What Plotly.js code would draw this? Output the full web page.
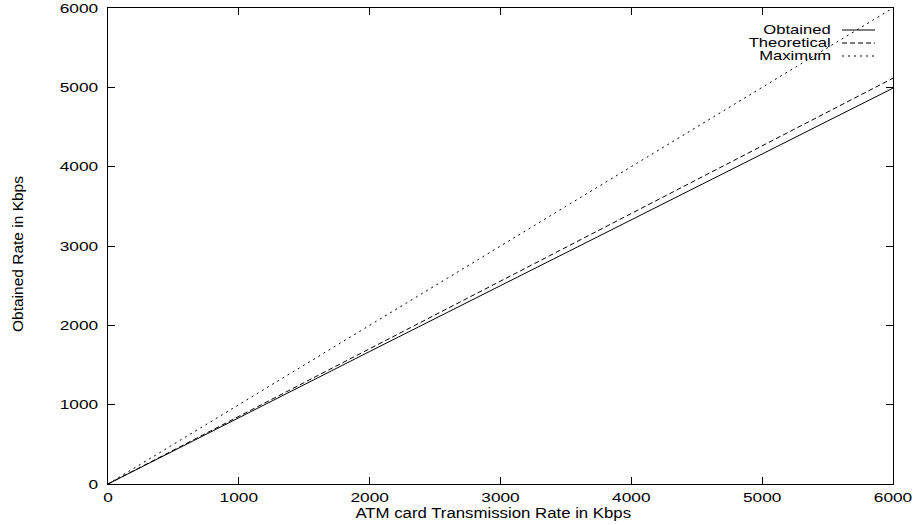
<!DOCTYPE html>
<html>
<head>
<meta charset="utf-8">
<script src="https://cdn.plot.ly/plotly-3.0.1.min.js"></script>
<style>
  html, body { margin: 0; padding: 0; background: #fff; }
  #chart { width: 915px; height: 525px; }
</style>
</head>
<body>
<div id="chart"></div>
<script>
// ---- data ----
const rates = [0, 1000, 2000, 3000, 4000, 5000, 6000];           // ATM card transmission rate (Kbps)
const obtained = [0, 840, 1670, 2500, 3330, 4160, 4990];         // obtained rate (Kbps)
const theoretical = [0, 852, 1705, 2557, 3410, 4262, 5115];      // theoretical rate (Kbps)
const maximum = [0, 1000, 2000, 3000, 4000, 5000, 6000];         // maximum rate (Kbps)
const seriesNames = ['Obtained', 'Theoretical', 'Maximum'];
const tickVals = [0, 1000, 2000, 3000, 4000, 5000, 6000];
const xTitle = 'ATM card Transmission Rate in Kbps';
const yTitle = 'Obtained Rate in Kbps';

const FONT = 'Liberation Sans, Arial, Helvetica, sans-serif';
const dashes = ['solid', '5px,3px', '2px,4px'];
const seriesY = [obtained, theoretical, maximum];

const traces = seriesY.map((ys, i) => ({
  type: 'scatter', mode: 'lines', x: rates, y: ys, name: seriesNames[i],
  line: { color: '#000', width: 1, dash: dashes[i] }, showlegend: false, hoverinfo: 'skip'
}));

// gnuplot-style key: right-aligned labels with line samples to their right
const L = 108, R = 893, T = 8, B = 484;
const px = v => (v - L) / (R - L);
const py = v => (B - v) / (B - T);
const rowY = [30, 43, 56];
const annotations = seriesNames.map((n, i) => ({
  xref: 'paper', yref: 'paper', x: px(833), y: py(rowY[i]), xanchor: 'right', yanchor: 'middle',
  text: n, showarrow: false, font: { family: FONT, size: 12.5, color: '#000' }
}));
annotations.push(
  { xref: 'paper', yref: 'paper', x: px(493), y: 0, yshift: -28, xanchor: 'center', yanchor: 'middle',
    text: xTitle, showarrow: false, font: { family: FONT, size: 15, color: '#000' } },
  { xref: 'paper', yref: 'paper', x: 0, xshift: -90, y: py(254), xanchor: 'center', yanchor: 'middle',
    text: yTitle, textangle: -90, showarrow: false, font: { family: FONT, size: 15.5, color: '#000' } }
);
const shapes = seriesNames.map((n, i) => ({
  type: 'line', xref: 'paper', yref: 'paper', x0: px(842), x1: px(875), y0: py(rowY[i]), y1: py(rowY[i]),
  line: { color: '#000', width: 1, dash: dashes[i] }
}));

const axisCommon = {
  range: [0, 6000], tickvals: tickVals, ticktext: tickVals.map(String),
  showgrid: false, zeroline: false, showline: true, linecolor: '#000', linewidth: 1.2,
  mirror: 'ticks', ticks: 'inside', ticklen: 7, tickcolor: '#000', tickwidth: 1,
  tickfont: { family: FONT, size: 13, color: '#000' }, fixedrange: true
};

const layout = {
  width: 915, height: 525,
  margin: { l: L, r: 915 - R, t: T, b: 525 - B },
  paper_bgcolor: '#fff', plot_bgcolor: '#fff',
  font: { family: FONT, color: '#000' },
  showlegend: false,
  xaxis: Object.assign({}, axisCommon, { ticklabelstandoff: 1 }),
  yaxis: Object.assign({}, axisCommon, { ticklabelstandoff: 6 }),
  annotations, shapes
};

Plotly.newPlot('chart', traces, layout, { staticPlot: true, displayModeBar: false }).then(gd => {
  // the reference's lettering is horizontally stretched (wide Helvetica); reproduce by scaling text in x
  const NS = 'http://www.w3.org/2000/svg';
  function wrapScale(t, factor, mode) {
    const g = document.createElementNS(NS, 'g');
    t.parentNode.insertBefore(g, t);
    g.appendChild(t);
    const bb = g.getBBox();
    const ax = mode === 'center' ? bb.x + bb.width / 2 : mode === 'end' ? bb.x + bb.width : bb.x;
    g.setAttribute('transform', `translate(${ax},0) scale(${factor},1) translate(${-ax},0)`);
  }
  gd.querySelectorAll('.xtick text').forEach(t => wrapScale(t, 1.33, 'center'));
  gd.querySelectorAll('.ytick text').forEach(t => wrapScale(t, 1.33, 'end'));
  gd.querySelectorAll('.annotation-text').forEach((t, i) => {
    if (i < 3) wrapScale(t, 1.33, 'end');
    else if (i === 3) wrapScale(t, 1.12, 'center');
  });
});
</script>
</body>
</html>
